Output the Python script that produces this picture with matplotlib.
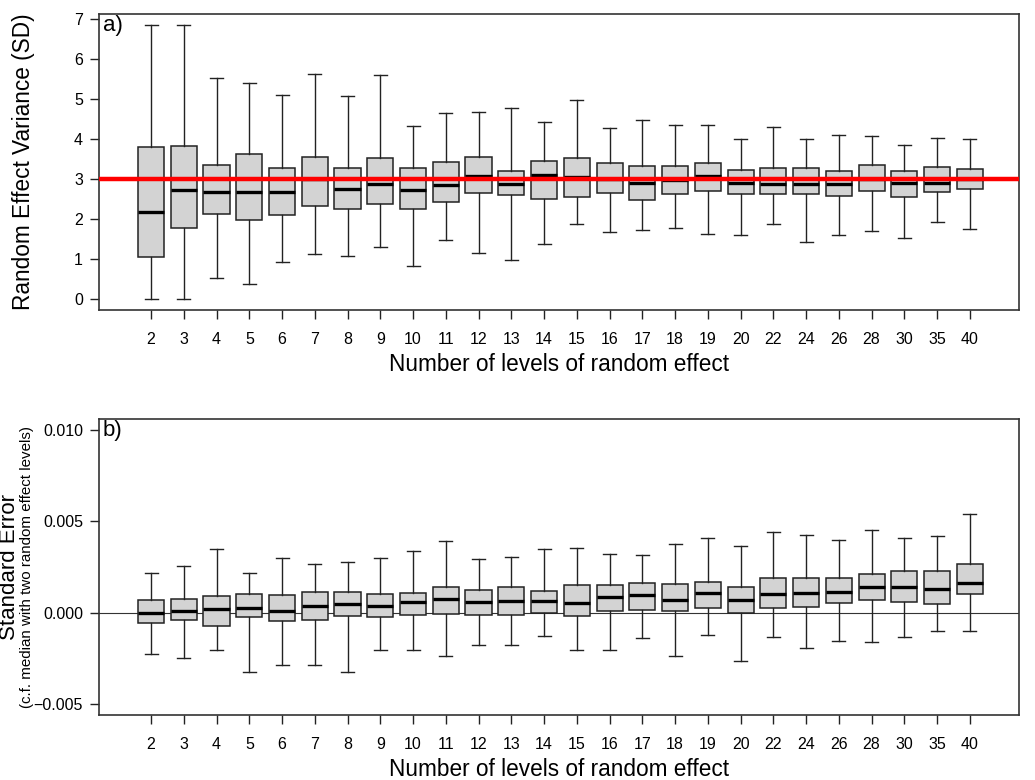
"""Two-panel boxplot: random effect SD and standard error vs number of levels."""

import matplotlib
matplotlib.use("Agg")
import matplotlib.pyplot as plt

plt.rcParams["font.family"] = ["Liberation Sans", "DejaVu Sans"]

levels = ["2", "3", "4", "5", "6", "7", "8", "9", "10", "11", "12", "13", "14",
          "15", "16", "17", "18", "19", "20", "22", "24", "26", "28", "30", "35", "40"]

# panel a) Random effect variance (SD)
sd_whislo = [0.00, 0.00, 0.53, 0.38, 0.93, 1.13, 1.08, 1.29, 0.83, 1.48, 1.15, 0.98, 1.38,
             1.87, 1.68, 1.72, 1.78, 1.63, 1.60, 1.88, 1.42, 1.60, 1.69, 1.53, 1.93, 1.74]
sd_q1 = [1.05, 1.77, 2.13, 1.97, 2.09, 2.32, 2.25, 2.37, 2.26, 2.43, 2.64, 2.60, 2.49,
         2.55, 2.66, 2.47, 2.62, 2.69, 2.63, 2.62, 2.63, 2.58, 2.70, 2.55, 2.68, 2.74]
sd_med = [2.17, 2.73, 2.68, 2.67, 2.67, 3.00, 2.76, 2.88, 2.73, 2.84, 3.08, 2.88, 3.11,
          3.06, 3.00, 2.89, 2.98, 3.07, 2.90, 2.88, 2.88, 2.88, 3.00, 2.90, 2.90, 3.00]
sd_q3 = [3.79, 3.83, 3.35, 3.63, 3.27, 3.55, 3.27, 3.53, 3.28, 3.43, 3.56, 3.21, 3.46,
         3.52, 3.41, 3.33, 3.33, 3.39, 3.23, 3.27, 3.28, 3.19, 3.35, 3.21, 3.29, 3.24]
sd_whishi = [6.86, 6.85, 5.52, 5.41, 5.10, 5.63, 5.08, 5.59, 4.32, 4.64, 4.68, 4.78, 4.43,
             4.98, 4.28, 4.47, 4.34, 4.35, 4.00, 4.31, 4.01, 4.10, 4.08, 3.85, 4.02, 4.00]
true_sd = 3.0

# panel b) Standard error relative to median with two levels
se_whislo = [-0.00230, -0.00252, -0.00204, -0.00327, -0.00287, -0.00290, -0.00327, -0.00208,
             -0.00206, -0.00239, -0.00177, -0.00177, -0.00128, -0.00208, -0.00208, -0.00142,
             -0.00239, -0.00126, -0.00265, -0.00133, -0.00193, -0.00155, -0.00162, -0.00133,
             -0.00100, -0.00099]
se_q1 = [-0.00060, -0.00042, -0.00073, -0.00027, -0.00049, -0.00042, -0.00020, -0.00026,
         -0.00011, -0.00009, -0.00016, -0.00015, -0.00004, -0.00018, 0.00011, 0.00015,
         0.00007, 0.00024, -0.00004, 0.00022, 0.00029, 0.00051, 0.00066, 0.00057,
         0.00049, 0.00100]
se_med = [0.00000, 0.00007, 0.00018, 0.00026, 0.00011, 0.00033, 0.00044, 0.00035,
          0.00055, 0.00073, 0.00057, 0.00064, 0.00062, 0.00053, 0.00086, 0.00095,
          0.00066, 0.00108, 0.00068, 0.00102, 0.00108, 0.00110, 0.00139, 0.00141,
          0.00130, 0.00164]
se_q3 = [0.00068, 0.00075, 0.00088, 0.00100, 0.00097, 0.00110, 0.00110, 0.00100,
         0.00108, 0.00142, 0.00124, 0.00142, 0.00120, 0.00150, 0.00150, 0.00164,
         0.00157, 0.00170, 0.00142, 0.00188, 0.00192, 0.00188, 0.00214, 0.00226,
         0.00230, 0.00265]
se_whishi = [0.00219, 0.00256, 0.00347, 0.00217, 0.00300, 0.00268, 0.00279, 0.00297,
             0.00336, 0.00392, 0.00292, 0.00303, 0.00350, 0.00354, 0.00320, 0.00318,
             0.00378, 0.00409, 0.00367, 0.00440, 0.00425, 0.00400, 0.00454, 0.00411,
             0.00422, 0.00542]


def _stats(lo, q1, med, q3, hi):
    return [dict(whislo=a, q1=b, med=c, q3=d, whishi=e, fliers=[])
            for a, b, c, d, e in zip(lo, q1, med, q3, hi)]


def _draw_boxes(ax, stats):
    pos = list(range(1, len(stats) + 1))
    ax.bxp(
        stats,
        positions=pos,
        widths=0.8,
        patch_artist=True,
        showfliers=False,
        boxprops=dict(facecolor="#d3d3d3", edgecolor="#222222", linewidth=1.1),
        medianprops=dict(color="black", linewidth=2.4, solid_capstyle="butt"),
        whiskerprops=dict(color="#222222", linewidth=1.0),
        capprops=dict(color="#222222", linewidth=1.0),
        capwidths=0.4,
        zorder=3,
    )
    ax.set_xticks(pos)
    ax.set_xticklabels(levels)
    ax.set_xlim(-0.59, len(stats) + 1.5)
    ax.tick_params(axis="both", direction="out", length=6.5, width=1.0,
                   colors="#222222", labelsize=11.5, labelcolor="black")
    ax.tick_params(axis="x", pad=9)
    ax.tick_params(axis="y", pad=5)
    for sp in ax.spines.values():
        sp.set_color("#333333")
        sp.set_linewidth(1.2)
    ax.set_xlabel("Number of levels of random effect", fontsize=16.3, labelpad=5)


fig = plt.figure(figsize=(10.35, 7.8), dpi=100)
ax1 = fig.add_axes([99 / 1035, 1 - 310 / 780, 920 / 1035, 296 / 780])
ax2 = fig.add_axes([99 / 1035, 1 - 715 / 780, 920 / 1035, 296 / 780])

_draw_boxes(ax1, _stats(sd_whislo, sd_q1, sd_med, sd_q3, sd_whishi))
ax1.axhline(true_sd, color="red", linewidth=3.2, zorder=5)
ax1.set_ylim(-0.275, 7.125)
ax1.set_yticks(range(0, 8))
ax1.text(0.004, 0.995, "a)", transform=ax1.transAxes, fontsize=16,
         ha="left", va="top")
fig.text(24 / 1035, 1 - 162 / 780, "Random Effect Variance (SD)", rotation=90,
         fontsize=16.3, ha="center", va="center")

_draw_boxes(ax2, _stats(se_whislo, se_q1, se_med, se_q3, se_whishi))
ax2.axhline(0, color="#333333", linewidth=0.8, zorder=1)
ax2.set_ylim(-0.005625, 0.01062)
ax2.set_yticks([-0.005, 0.0, 0.005, 0.010])
ax2.set_yticklabels(["\u22120.005", "0.000", "0.005", "0.010"])
ax2.text(0.004, 0.995, "b)", transform=ax2.transAxes, fontsize=16,
         ha="left", va="top")
fig.text(10 / 1035, 1 - 567 / 780, "Standard Error", rotation=90,
         fontsize=16, ha="center", va="center")
fig.text(27 / 1035, 1 - 567 / 780, "(c.f. median with two random effect levels)",
         rotation=90, fontsize=10.9, ha="center", va="center")

fig.savefig("out.png", dpi=100)
plt.close(fig)
